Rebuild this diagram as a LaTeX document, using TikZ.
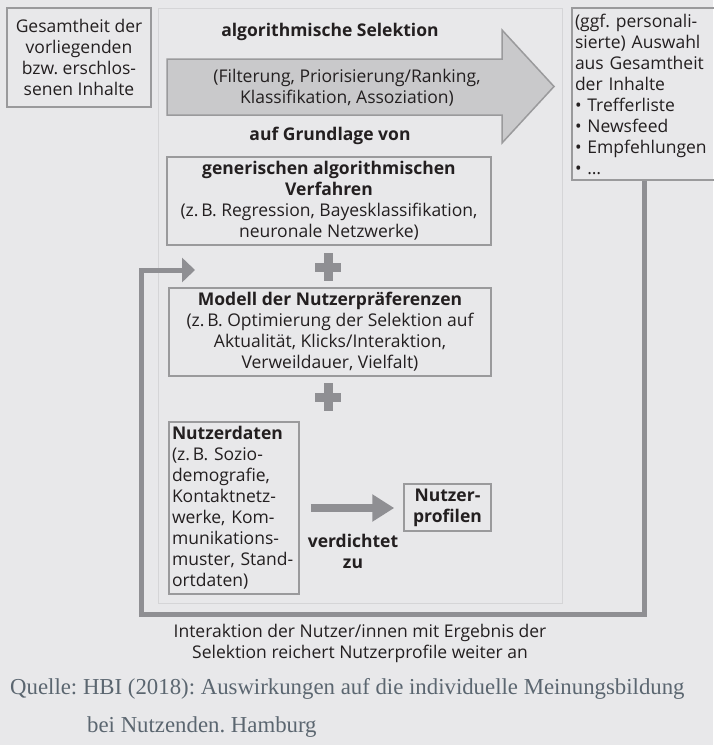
\documentclass[tikz,border=0pt]{standalone}
\usepackage{fontspec}
\setmainfont{Open Sans}
\newfontfamily\quellefont{Liberation Serif}
\usetikzlibrary{arrows.meta}
\definecolor{bgGrey}{HTML}{E8E8EA}
\definecolor{frameGrey}{HTML}{9A9A9C}
\definecolor{panelGrey}{HTML}{D5D5D7}
\definecolor{arrowGrey}{HTML}{C9C9CB}
\definecolor{lineGrey}{HTML}{8F8F93}
\definecolor{textDark}{HTML}{231F20}
\definecolor{sourceGrey}{HTML}{5B6670}
\newcommand{\boxfont}{\fontsize{17.5}{21}\selectfont}
\frenchspacing

\begin{document}
\begin{tikzpicture}[x=1pt,y=-1pt,
  box/.style={draw=frameGrey,line width=1.5pt,inner sep=0pt,text=textDark,font=\boxfont},
  lbl/.style={inner sep=0pt,text=textDark,font=\boxfont\bfseries,align=center},
  plussign/.style={draw=lineGrey,line width=9pt},
  feedback/.style={draw=lineGrey,line width=5pt,-{Triangle[length=13pt,width=24pt]}},
  thickarrow/.style={draw=lineGrey,line width=8pt,-{Triangle[length=22pt,width=26pt]}},
  src/.style={anchor=base west,inner sep=0pt,text=sourceGrey,font=\quellefont\fontsize{22.8}{38}\selectfont}
]
  \useasboundingbox[fill=bgGrey] (0,0) rectangle (713,745);

  % --- input contents (left) ---
  \node[box,minimum width=144pt,minimum height=99pt,align=center] (inp) at (79,57.5)
    {Gesamtheit der\\vorliegenden\\bzw. erschlos-\\senen Inhalte};

  % --- central panel ---
  \node[draw=panelGrey,line width=1pt,minimum width=404pt,minimum height=595pt,inner sep=0pt] (panel) at (360,305.5) {};

  % --- selection arrow ---
  \node[lbl] (seltitle) at (330,32) {algorithmische Selektion};
  \filldraw[fill=arrowGrey,draw=frameGrey,line width=1.5pt,line join=miter]
    (167,59) -- (502,59) -- (502,30) -- (554,86.5) -- (502,143) -- (502,115) -- (167,115) -- cycle;
  \node[lbl,font=\boxfont] (seltext) at (347,88) {(Filterung, Priorisierung/Ranking,\\Klassifikation, Assoziation)};
  \node[lbl] (basis) at (330,136) {auf Grundlage von};

  % --- building blocks ---
  \node[box,minimum width=324pt,minimum height=88pt,align=center] (gen) at (329,201)
    {\textbf{generischen algorithmischen}\\\textbf{Verfahren}\\(z.\,B. Regression, Bayesklassifikation,\\neuronale Netzwerke)};
  \draw[plussign] (315,267) -- (341,267) (328,253) -- (328,281);

  \node[box,minimum width=322pt,minimum height=88pt,align=center] (model) at (330,332)
    {\textbf{Modell der Nutzerpräferenzen}\\(z.\,B. Optimierung der Selektion auf\\Aktualität, Klicks/Interaktion,\\Verweildauer, Vielfalt)};
  \draw[plussign] (315,397) -- (341,397) (328,383) -- (328,411);

  \node[box,inner xsep=3pt,text width=124pt,minimum height=172pt,align=left] (data) at (234,508)
    {\textbf{Nutzerdaten}\\(z.\,B. Sozio-\\demografie,\\Kontaktnetz-\\werke, Kom-\\munikations-\\muster, Stand-\\ortdaten)};
  \node[box,minimum width=87pt,minimum height=47pt,align=center,font=\boxfont\bfseries] (prof) at (447.5,507.5)
    {Nutzer-\\profilen};
  \draw[thickarrow,shorten <=11pt,shorten >=9pt] (data.east) -- (data.east -| prof.west);
  \node[lbl] (verd) at (353,551) {verdichtet\\zu};

  % --- output (right) ---
  \node[box,inner xsep=3pt,text width=138pt,minimum height=172pt,align=left] (out) at (644,94)
    {(ggf. personali-\\sierte) Auswahl\\aus Gesamtheit\\der Inhalte\\• Trefferliste\\• Newsfeed\\• Empfehlungen\\• \dots};

  % --- feedback loop ---
  \coordinate (fbl) at (141,614);
  \coordinate (fbend) at (195,270);
  \draw[feedback] (out.south) |- (fbl) |- (fbend);
  \node[lbl,font=\boxfont] (note) at (360,643)
    {Interaktion der Nutzer/innen mit Ergebnis der\\Selektion reichert Nutzerprofile weiter an};

  % --- source ---
  \node[src] (srcA) at (10,694) {Quelle: HBI (2018): Auswirkungen auf die individuelle Meinungsbildung};
  \node[src] (srcB) at (87,732) {bei Nutzenden. Hamburg};
\end{tikzpicture}
\end{document}
